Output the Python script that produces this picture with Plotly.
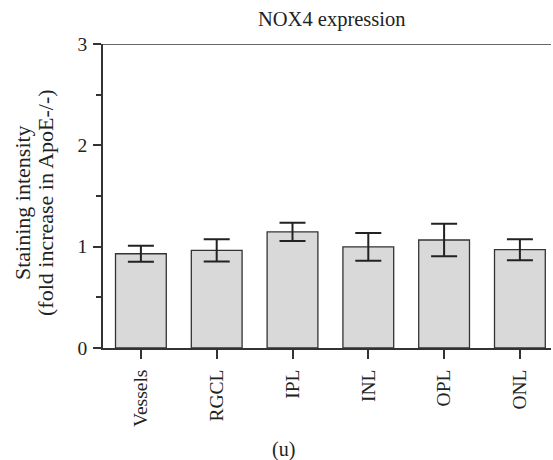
import plotly.graph_objects as go

categories = ["Vessels", "RGCL", "IPL", "INL", "OPL", "ONL"]
values = [0.93, 0.964, 1.145, 0.998, 1.066, 0.97]
errors = [0.079, 0.11, 0.09, 0.138, 0.16, 0.103]
y_ticks = [0, 1, 2, 3]

W, H = 553, 460
L, R, T, B = 103, 2, 44, 112
pw, ph = W - L - R, H - T - B

def px_x(x):
    return (x - L) / pw

def px_y(y):
    return (H - B - y) / ph

FONT = "Liberation Serif, Times New Roman, serif"
AX = "#333333"

fig = go.Figure()
fig.add_trace(go.Bar(
    x=list(range(len(categories))),
    y=values,
    width=0.67,
    marker=dict(color="#d9d9d9", line=dict(color=AX, width=1.3)),
    error_y=dict(type="data", array=errors, visible=True,
                 color="#222222", thickness=2, width=13),
    showlegend=False,
    hoverinfo="skip",
))

fig.update_layout(
    width=W, height=H,
    margin=dict(l=L, r=R, t=T, b=B, pad=0),
    paper_bgcolor="white", plot_bgcolor="white",
    font=dict(family=FONT, color="#222222", size=19),
    xaxis=dict(
        range=[-0.5, -0.5 + pw / 75.8],
        tickmode="array",
        tickvals=list(range(len(categories))),
        ticktext=categories,
        tickangle=-90,
        ticks="outside", ticklen=9, tickwidth=1.5, tickcolor=AX,
        showline=True, linecolor=AX, linewidth=1.5,
        showgrid=False, zeroline=False,
        tickfont=dict(family=FONT, size=19.5, color="#222222"),
        ticklabelstandoff=3,
    ),
    yaxis=dict(
        range=[0, 3],
        tickmode="array", tickvals=y_ticks, ticktext=[str(v) for v in y_ticks],
        ticks="outside", ticklen=8, tickwidth=1.5, tickcolor=AX,
        minor=dict(dtick=0.5, ticks="outside", ticklen=5, tickwidth=1.5, tickcolor=AX),
        showline=True, linecolor=AX, linewidth=1.5,
        showgrid=False, zeroline=False,
        tickfont=dict(family=FONT, size=19.5, color="#222222"),
        ticklabelstandoff=2,
    ),
    shapes=[dict(type="line", xref="paper", yref="y", x0=0, x1=1, y0=3, y1=3,
                 line=dict(color=AX, width=1.5))],
)

anns = [
    dict(text="NOX4 expression", x=px_x(331), y=px_y(20), size=20.5, angle=0),
    dict(text="(u)", x=px_x(283), y=px_y(449), size=20, angle=0),
    dict(text="Staining intensity", x=px_x(22), y=px_y(203), size=22, angle=-90),
    dict(text="(fold increase in ApoE-/-)", x=px_x(45), y=px_y(203), size=22, angle=-90),
]
for a in anns:
    fig.add_annotation(text=a["text"], xref="paper", yref="paper", x=a["x"], y=a["y"],
                       xanchor="center", yanchor="middle", showarrow=False,
                       textangle=a["angle"],
                       font=dict(family=FONT, size=a["size"], color="#222222"))

fig.write_html(
    "out.html",
    config={"displayModeBar": False},
    post_script="document.body.style.margin='0';document.body.style.overflow='hidden';",
)
